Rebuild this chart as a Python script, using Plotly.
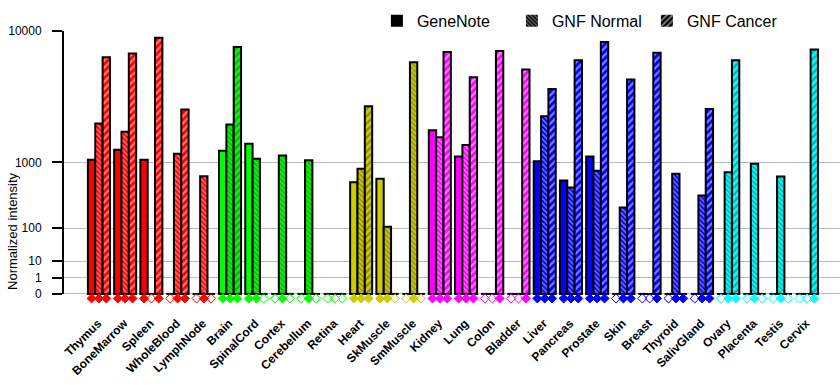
import math
import plotly.graph_objects as go

tissues = ["Thymus", "BoneMarrow", "Spleen", "WholeBlood", "LymphNode",
           "Brain", "SpinalCord", "Cortex", "Cerebellum", "Retina",
           "Heart", "SkMuscle", "SmMuscle",
           "Kidney", "Lung", "Colon", "Bladder",
           "Liver", "Pancreas", "Prostate", "Skin", "Breast", "Thyroid", "SalivGland",
           "Ovary", "Placenta", "Testis", "Cervix"]

tissue_colors = (["#FF0000"] * 5 + ["#00FF00"] * 5 + ["#CCCC00"] * 3 +
                 ["#FF00FF"] * 4 + ["#0000FF"] * 7 + ["#00FFFF"] * 4)

genenote = [1070, 1360, 1070, None, None,
            1330, 1560, None, None, None,
            580, 646, None,
            2070, 1160, None, None,
            1030, 614, 1160, None, None, None, None,
            None, None, None, None]

gnf_normal = [2370, 2010, None, 1240, 690,
              2320, 1100, 1190, 1055, None,
              850, 108, 6580,
              1790, 1510, None, None,
              2720, 497, 807, 249, None, 743, 383,
              771, 970, 689, None]

gnf_cancer = [7060, 7430, 9180, 3080, None,
              8110, None, None, None, None,
              3270, None, None,
              7590, 5260, 7700, 5910,
              4370, 6750, 8670, 5080, 7500, 0, 3110,
              6750, None, None, 7850]

tick_values = [0, 1, 10, 100, 1000, 10000]
tick_labels = ["0", "1", "10", "100", "1000", "10000"]

P = math.log10(2)


def tr(v):
    return None if v is None else v ** P


series = [("GeneNote", genenote, "", -0.28),
          ("GNF Normal", gnf_normal, "\\", 0.0),
          ("GNF Cancer", gnf_cancer, "/", 0.28)]

FONT = "Liberation Sans, Arial, sans-serif"
idx = list(range(len(tissues)))
BW = 0.28
YMIN = -0.43
YMAX = 16
PPU = 263 / 16.0

fig = go.Figure()

# baseline segments under each group
seg_x, seg_y = [], []
for i in idx:
    seg_x += [i - 0.43, i + 0.43, None]
    seg_y += [0, 0, None]
fig.add_trace(go.Scatter(x=seg_x, y=seg_y, mode="lines",
                         line=dict(color="black", width=2),
                         showlegend=False, hoverinfo="skip"))

for name, vals, shape, off in series:
    pattern = dict(shape=shape, fgcolor="white", fillmode="overlay")
    if shape == "\\":
        pattern.update(size=3.5, solidity=0.42)
    elif shape == "/":
        pattern.update(size=5, solidity=0.45)
    fig.add_trace(go.Bar(
        x=[i + off for i in idx], y=[tr(v) for v in vals], width=BW,
        marker=dict(color=tissue_colors, line=dict(color="black", width=2),
                    pattern=pattern),
        name=name, showlegend=False))
    # legend-only entry
    fig.add_trace(go.Bar(
        x=[None], y=[None], name=name,
        marker=dict(color="black", line=dict(color="black", width=0),
                    pattern=pattern)))
    # presence diamonds
    xs, ys, syms = [], [], []
    for i, v in zip(idx, vals):
        xs.append(i + off)
        ys.append(-4.5 / PPU)
        syms.append("diamond" if v is not None else "diamond-open")
    fig.add_trace(go.Scatter(
        x=xs, y=ys, mode="markers", cliponaxis=False,
        marker=dict(symbol=syms, size=7, color=tissue_colors,
                    line=dict(width=1, color=tissue_colors)),
        showlegend=False, hoverinfo="skip"))

fig.update_layout(
    width=840, height=385,
    margin=dict(l=63, r=0, t=31, b=385 - 31 - round(PPU * (YMAX - YMIN)), autoexpand=False),
    barmode="overlay",
    plot_bgcolor="white", paper_bgcolor="white",
    font=dict(family=FONT, color="black"),
    legend=dict(orientation="h", x=0.404, xanchor="left", y=1 + 10 / 263, yanchor="middle",
                font=dict(size=16, family=FONT, color="black"),
                entrywidth=90, entrywidthmode="pixels",
                bgcolor="rgba(0,0,0,0)", itemclick=False),
    xaxis=dict(range=[-1.37, 28.26], tickvals=idx, ticktext=tissues,
               tickangle=-45, ticks="", showgrid=False, zeroline=False,
               showline=False, ticklabelstandoff=12, ticklabelshift=-1, automargin=False,
               tickfont=dict(size=12, family="Liberation Sans, Arial", weight="bold")),
    yaxis=dict(range=[YMIN, YMAX], tickvals=[v ** P for v in tick_values],
               ticktext=tick_labels, showgrid=True, gridcolor="#BBBBBB", gridwidth=1,
               zeroline=False, showline=False, automargin=False,
               ticks="outside", ticklen=10, tickwidth=1.5, tickcolor="black",
               ticklabelstandoff=8, tickfont=dict(size=12, family=FONT)),
    shapes=[dict(type="line", xref="paper", yref="y", x0=0, x1=0, y0=0, y1=YMAX,
                 line=dict(color="black", width=2))],
    annotations=[dict(text="Normalized intensity", textangle=-90,
                      xref="paper", yref="y", x=(13 - 63) / 777, y=(294 - 231) / PPU,
                      xanchor="center", yanchor="middle",
                      showarrow=False, font=dict(size=13, family=FONT))],
)

fig.write_html("out.html", config={"displayModeBar": False},
               post_script="document.body.style.margin='0px';")
